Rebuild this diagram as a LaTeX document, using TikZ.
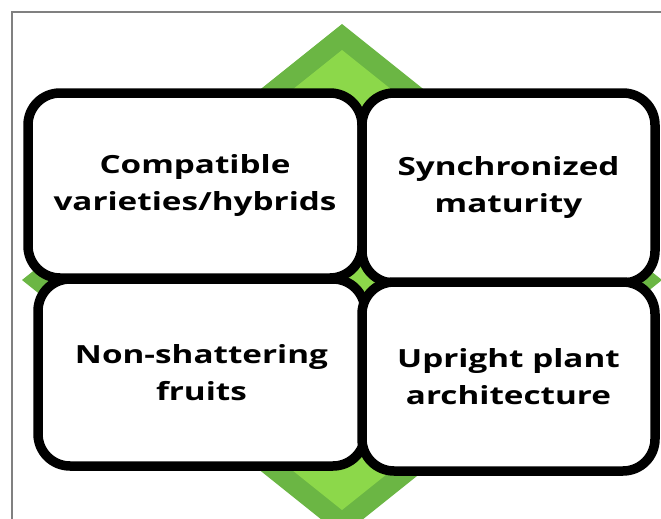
\documentclass[tikz,border=0pt]{standalone}
\usepackage{fontspec}
\setmainfont[FakeStretch=1.33]{Open Sans}
\definecolor{leafdark}{HTML}{6BB644}
\definecolor{leaflight}{HTML}{8CD84A}
\definecolor{framegray}{HTML}{808080}

\begin{document}
\begin{tikzpicture}[x=1pt,y=-1pt,
  trait/.style={draw=black,line width=9.5pt,fill=white,rounded corners=32pt,
    align=center,inner sep=0pt,font=\fontsize{25}{37}\selectfont\bfseries}]
\useasboundingbox (0,0) rectangle (661,519);
% frame
\draw[framegray,line width=1.5pt] (12,519) -- (12,12) -- (661,12);
% diamond behind the boxes
\fill[leafdark] (342,24) -- (662,280) -- (342,536) -- (22,280) -- cycle;
\fill[leaflight] (342,50) -- (629.5,280) -- (342,510) -- (54.5,280) -- cycle;
% four traits
\node[trait,minimum width=334pt,minimum height=185pt] (compat) at (195,185.5)
  {Compatible\\varieties/hybrids};
\node[trait,minimum width=293pt,minimum height=190pt] (sync) at (508.5,188)
  {Synchronized\\maturity};
\node[trait,minimum width=327pt,minimum height=187pt] (shatter) at (201.5,372.5)
  {Non-shattering\\fruits};
\node[trait,minimum width=293pt,minimum height=189pt] (upright) at (508.5,376.5)
  {Upright plant\\architecture};
\end{tikzpicture}
\end{document}
